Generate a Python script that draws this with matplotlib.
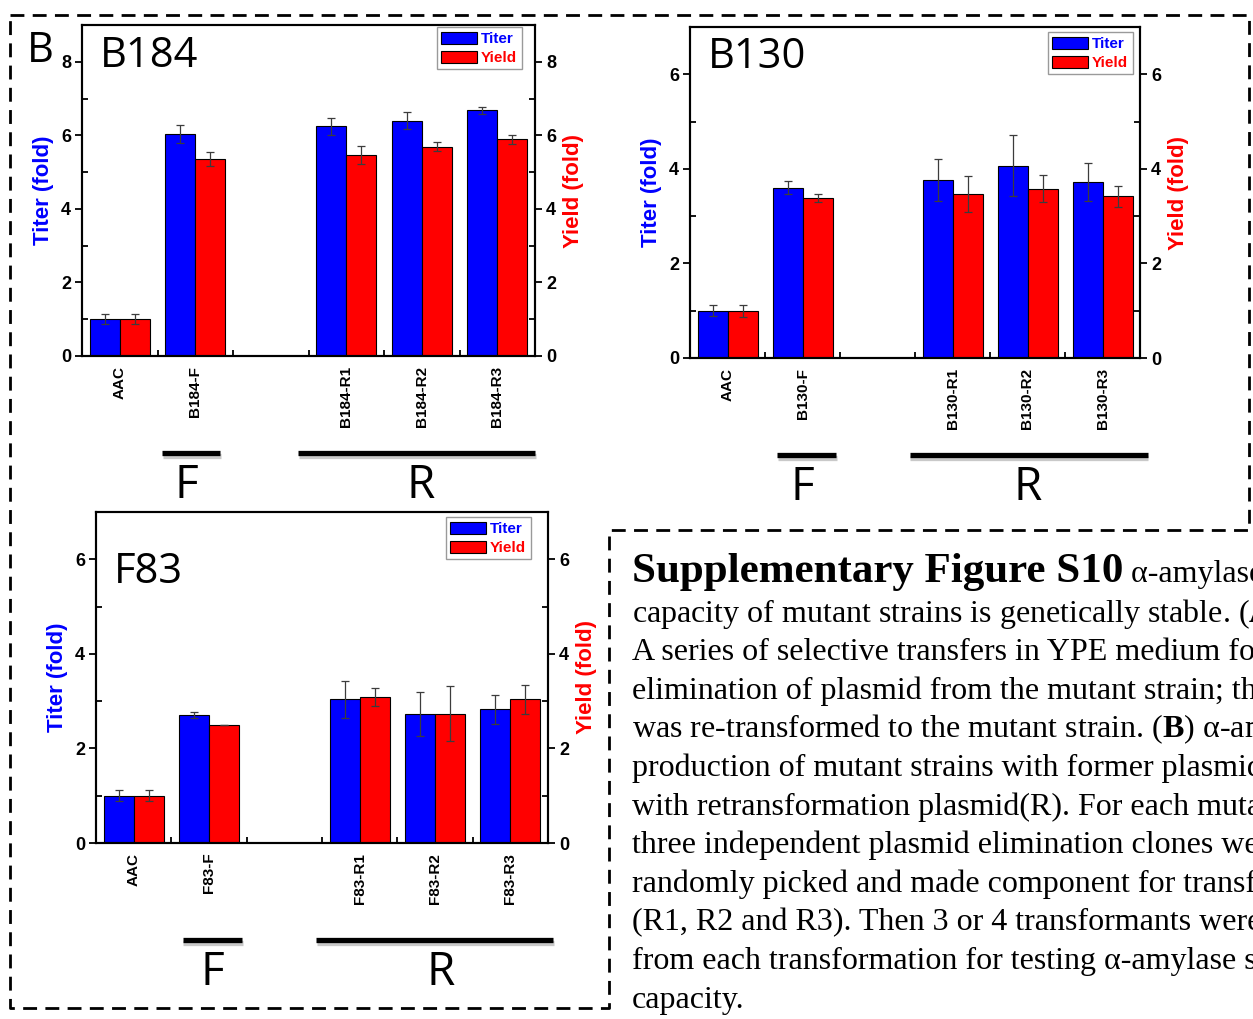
import numpy as np
import matplotlib.pyplot as plt
import matplotlib.patheffects as pe
from matplotlib.lines import Line2D

plt.rcParams['font.family'] = 'Liberation Sans'
plt.rcParams['mathtext.fontset'] = 'custom'
plt.rcParams['mathtext.rm'] = 'Liberation Serif'
plt.rcParams['mathtext.bf'] = 'Liberation Serif:bold'

W, H = 1253, 1019

# category slots: AAC, F, (gap), R1, R2, R3
slots = [0, 1, 3, 4, 5]

b184_labels = ['AAC', 'B184-F', 'B184-R1', 'B184-R2', 'B184-R3']
b184_titer = [1.0, 6.03, 6.25, 6.40, 6.68]
b184_titer_err = [0.13, 0.25, 0.23, 0.24, 0.09]
b184_yield = [1.0, 5.36, 5.47, 5.69, 5.89]
b184_yield_err = [0.13, 0.20, 0.25, 0.12, 0.12]

b130_labels = ['AAC', 'B130-F', 'B130-R1', 'B130-R2', 'B130-R3']
b130_titer = [1.0, 3.60, 3.76, 4.07, 3.72]
b130_titer_err = [0.12, 0.14, 0.44, 0.65, 0.41]
b130_yield = [1.0, 3.38, 3.46, 3.58, 3.42]
b130_yield_err = [0.13, 0.09, 0.38, 0.28, 0.22]

f83_labels = ['AAC', 'F83-F', 'F83-R1', 'F83-R2', 'F83-R3']
f83_titer = [1.0, 2.70, 3.04, 2.73, 2.83]
f83_titer_err = [0.12, 0.06, 0.39, 0.47, 0.31]
f83_yield = [1.0, 2.49, 3.08, 2.73, 3.04]
f83_yield_err = [0.12, 0.0, 0.19, 0.58, 0.31]

group_names = ['F', 'R']

caption_head = 'Supplementary Figure S10'
caption_lines = [
    'capacity of mutant strains is genetically stable. ($\\mathbf{A}$)',
    'A series of selective transfers in YPE medium for',
    'elimination of plasmid from the mutant strain; the',
    'was re-transformed to the mutant strain. ($\\mathbf{B}$) \u03b1-amylase',
    'production of mutant strains with former plasmid',
    'with retransformation plasmid(R). For each mutant,',
    'three independent plasmid elimination clones were',
    'randomly picked and made component for transformation',
    '(R1, R2 and R3). Then 3 or 4 transformants were',
    'from each transformation for testing \u03b1-amylase secretion',
    'capacity.',
]

fig = plt.figure(figsize=(W / 100, H / 100), dpi=100)


def panel(rect, labels, titer, titer_err, yld, yld_err, ymax, name, name_y, leg_anchor,
          spans, letter_x):
    ax = fig.add_axes(rect)
    x = np.array(slots, dtype=float)
    w = 0.4
    ax.bar(x - w / 2, titer, w, color='#0000ff', edgecolor='black', lw=0.8, label='Titer', zorder=2)
    ax.bar(x + w / 2, yld, w, color='#ff0000', edgecolor='black', lw=0.8, label='Yield', zorder=2)
    ax.errorbar(x - w / 2, titer, yerr=titer_err, fmt='none', ecolor='#3c3c3c',
                elinewidth=0.9, capsize=3, capthick=0.9, zorder=3)
    ax.errorbar(x + w / 2, yld, yerr=yld_err, fmt='none', ecolor='#3c3c3c',
                elinewidth=0.9, capsize=3, capthick=0.9, zorder=3)

    ax.set_xlim(-0.5, 5.5)
    ax.set_ylim(0, ymax)
    ax.set_xticks(x)
    ax.set_xticklabels(labels, rotation=90, fontsize=11, fontweight='bold')
    ax.set_xticks(np.arange(0.5, 5.0, 1.0), minor=True)
    ax.tick_params(axis='x', which='major', length=0, pad=7)
    ax.tick_params(axis='x', which='minor', direction='in', length=4, width=1.3)

    major = np.arange(0, ymax, 2)
    minor = np.arange(1, ymax, 2)
    ax.set_yticks(major, labels=[str(int(v)) for v in major], fontsize=13, fontweight='bold')
    ax.set_yticks(minor, minor=True)
    ax.tick_params(axis='y', which='major', direction='out', length=5, width=1.3, pad=3)
    ax.tick_params(axis='y', which='minor', direction='in', length=4, width=1.3)
    ax.set_ylabel('Titer (fold)', color='#0000ff', fontsize=16, fontweight='bold', labelpad=5)

    ax2 = ax.twinx()
    ax2.set_ylim(0, ymax)
    ax2.set_yticks(major, labels=[str(int(v)) for v in major], fontsize=13, fontweight='bold')
    ax2.set_yticks(minor, minor=True)
    ax2.tick_params(axis='y', which='major', direction='out', length=5, width=1.3, pad=3)
    ax2.tick_params(axis='y', which='minor', direction='in', length=4, width=1.3)
    ax2.set_ylabel('Yield (fold)', color='#ff0000', fontsize=16, fontweight='bold', labelpad=5)

    for a in (ax, ax2):
        for s in a.spines.values():
            s.set_linewidth(1.5)

    ax.text(0.04, name_y, name, transform=ax.transAxes, fontsize=30,
            family='Open Sans', va='baseline')

    leg = ax2.legend(*ax.get_legend_handles_labels(), loc='upper right',
                     bbox_to_anchor=leg_anchor, borderaxespad=0, fancybox=False,
                     edgecolor='#9a9a9a', framealpha=1,
                     prop={'size': 11, 'weight': 'bold'},
                     handlelength=2.3, handleheight=0.85, handletextpad=0.3,
                     labelspacing=0.3, borderpad=0.3, labelcolor=['#0000ff', '#ff0000'])
    leg.get_frame().set_linewidth(1.0)

    # bracket lines with the group letters under the tick labels
    tr = ax.get_xaxis_transform()
    for letter, (x0, x1), xl in zip(group_names, spans, letter_x):
        ax.plot([x0, x1], [-0.293, -0.293], transform=tr, color='black', lw=3.8,
                clip_on=False, solid_capstyle='butt',
                path_effects=[pe.SimpleLineShadow(offset=(0.5, -2.5), shadow_color='#888888', alpha=0.45),
                              pe.Normal()])
        ax.text(xl, -0.43, letter, transform=tr, ha='center', va='baseline',
                fontsize=33, family='Open Sans')
    return ax


panel([82 / W, 1 - 356 / H, 453 / W, 331 / H], b184_labels, b184_titer, b184_titer_err,
      b184_yield, b184_yield_err, 9, 'B184', 0.873, (0.971, 0.994),
      [(0.56, 1.33), (2.36, 5.5)], [0.88, 3.98])
panel([690 / W, 1 - 358 / H, 450 / W, 331 / H], b130_labels, b130_titer, b130_titer_err,
      b130_yield, b130_yield_err, 7, 'B130', 0.876, (0.984, 0.985),
      [(0.66, 1.45), (2.43, 5.6)], [1.0, 4.0])
panel([96 / W, 1 - 843 / H, 452 / W, 331 / H], f83_labels, f83_titer, f83_titer_err,
      f83_yield, f83_yield_err, 7, 'F83', 0.785, (0.962, 0.985),
      [(0.65, 1.44), (2.42, 5.57)], [1.05, 4.07])

fig.text(27 / W, 1 - 62 / H, 'B', fontsize=30, family='Open Sans', va='baseline')

# dashed outline around the three panels
bx = np.array([10, 1249, 1249, 609, 609, 10, 10]) / W
by = 1 - np.array([15, 15, 530, 530, 1008, 1008, 15]) / H
fig.add_artist(Line2D(bx, by, color='black', lw=2, dashes=(5, 3)))

# caption
tx = 632 / W
head = fig.text(tx, 1 - 582 / H, caption_head, family='Liberation Serif', fontweight='bold',
                fontsize=31, va='baseline')
bb = head.get_window_extent(fig.canvas.get_renderer())
fig.text(bb.x1 / W, 1 - 582 / H, ' \u03b1-amylase', family='Liberation Serif',
         fontsize=23, va='baseline')
for i, line in enumerate(caption_lines):
    fig.text(tx, 1 - (621.7 + 38.6 * i) / H, line, family='Liberation Serif',
             fontsize=23, va='baseline')

fig.savefig('out.png', dpi=100)
